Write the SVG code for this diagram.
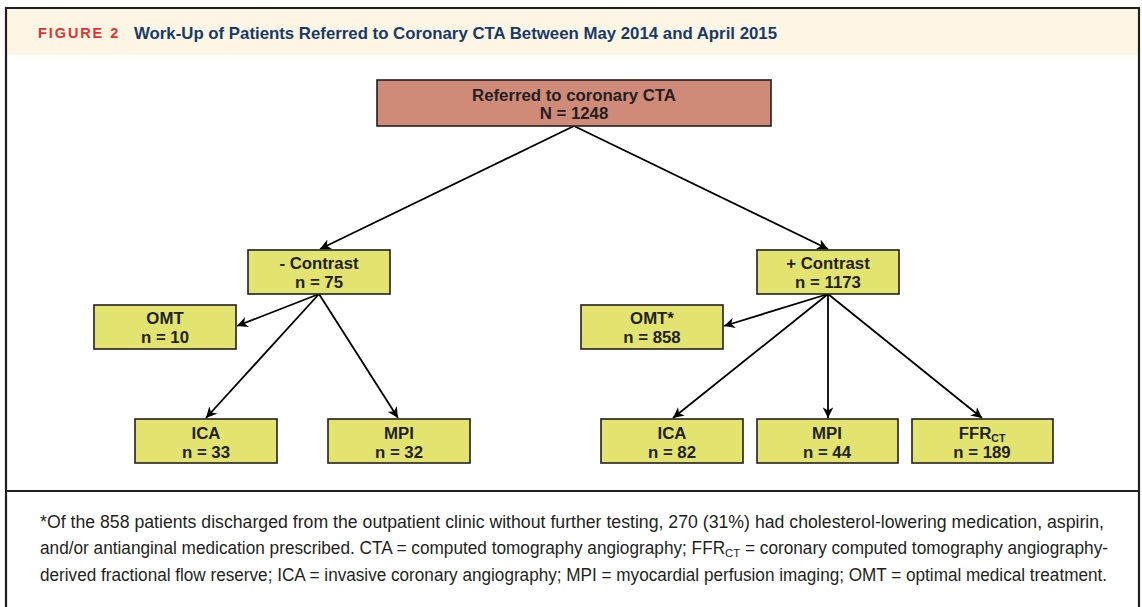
<svg xmlns="http://www.w3.org/2000/svg" width="1142" height="607" viewBox="0 0 1142 607">
<style>
.box{fill:#E3E46F;stroke:#231F20;stroke-width:1.6}
.root{fill:#D08A78;stroke:#231F20;stroke-width:1.6}
.nt{font-family:"Liberation Sans",Arial,sans-serif;font-weight:bold;font-size:16.8px;fill:#231F20;text-anchor:middle}
.edge{stroke:#000;stroke-width:1.8;fill:none;marker-end:url(#ah)}
.fn{font-family:"Liberation Sans",Arial,sans-serif;font-size:17.5px;fill:#231F20}
</style>
<defs>
<marker id="ah" viewBox="0 0 10 10" refX="10" refY="5" markerWidth="6" markerHeight="6" orient="auto" markerUnits="strokeWidth">
<path d="M0,0 L10,5 L0,10 L3,5 Z" fill="#000"/>
</marker>
</defs>
<rect x="0" y="0" width="1142" height="607" fill="#fff"/>
<rect x="6" y="9" width="1132" height="46" fill="#FDF6E4"/>
<path d="M6,607 V8 H1139 V607" fill="none" stroke="#231F20" stroke-width="2.2"/>
<line x1="6" y1="491" x2="1139" y2="491" stroke="#231F20" stroke-width="2.2"/>
<g id="title">
<text x="38" y="38" font-family="'Liberation Sans',Arial,sans-serif" font-weight="bold" font-size="14.5" fill="#E4312F" letter-spacing="1.8" textLength="82" lengthAdjust="spacing">FIGURE 2</text>
<text x="134" y="39" font-family="'Liberation Sans',Arial,sans-serif" font-weight="bold" font-size="16.5" fill="#173A6B" textLength="643" lengthAdjust="spacingAndGlyphs">Work-Up of Patients Referred to Coronary CTA Between May 2014 and April 2015</text>
</g>
<g id="connectors">
<line class="edge" x1="574" y1="126" x2="320" y2="249"/>
<line class="edge" x1="574" y1="126" x2="828" y2="249"/>
<line class="edge" x1="319" y1="294" x2="237" y2="326"/>
<line class="edge" x1="319" y1="294" x2="206" y2="418"/>
<line class="edge" x1="319" y1="294" x2="398" y2="418"/>
<line class="edge" x1="828" y1="294" x2="724" y2="326"/>
<line class="edge" x1="828" y1="294" x2="673" y2="418"/>
<line class="edge" x1="828" y1="294" x2="828" y2="418"/>
<line class="edge" x1="828" y1="294" x2="982" y2="418"/>
</g>
<g id="n-root">
<rect class="root" x="377" y="80" width="394" height="46"/>
<text class="nt" x="574" y="101">Referred to coronary CTA</text>
<text class="nt" x="574" y="119">N = 1248</text>
</g>
<g id="n-minus">
<rect class="box" x="248" y="250" width="142" height="44"/>
<text class="nt" x="319" y="269">- Contrast</text>
<text class="nt" x="319" y="288">n = 75</text>
</g>
<g id="n-plus">
<rect class="box" x="757" y="250" width="142" height="44"/>
<text class="nt" x="828" y="269">+ Contrast</text>
<text class="nt" x="828" y="288">n = 1173</text>
</g>
<g id="n-omt">
<rect class="box" x="94" y="305" width="142" height="44"/>
<text class="nt" x="165" y="324">OMT</text>
<text class="nt" x="165" y="343">n = 10</text>
</g>
<g id="n-omtstar">
<rect class="box" x="581" y="305" width="142" height="44"/>
<text class="nt" x="652" y="324">OMT*</text>
<text class="nt" x="652" y="343">n = 858</text>
</g>
<g id="n-ica1">
<rect class="box" x="135" y="419" width="142" height="44"/>
<text class="nt" x="206" y="439">ICA</text>
<text class="nt" x="206" y="458">n = 33</text>
</g>
<g id="n-mpi1">
<rect class="box" x="328" y="419" width="142" height="44"/>
<text class="nt" x="399" y="439">MPI</text>
<text class="nt" x="399" y="458">n = 32</text>
</g>
<g id="n-ica2">
<rect class="box" x="601" y="419" width="142" height="44"/>
<text class="nt" x="672" y="439">ICA</text>
<text class="nt" x="672" y="458">n = 82</text>
</g>
<g id="n-mpi2">
<rect class="box" x="757" y="419" width="141" height="44"/>
<text class="nt" x="827" y="439">MPI</text>
<text class="nt" x="827" y="458">n = 44</text>
</g>
<g id="n-ffr">
<rect class="box" x="912" y="419" width="141" height="44"/>
<text class="nt" x="982" y="439">FFR<tspan font-size="10.5" dy="3">CT</tspan></text>
<text class="nt" x="982" y="458">n = 189</text>
</g>
<g id="footnote">
<text class="fn" x="40" y="528" textLength="1064" lengthAdjust="spacingAndGlyphs">*Of the 858 patients discharged from the outpatient clinic without further testing, 270 (31%) had cholesterol-lowering medication, aspirin,</text>
<text class="fn" x="40" y="554" textLength="1068" lengthAdjust="spacingAndGlyphs">and/or antianginal medication prescribed. CTA = computed tomography angiography; FFR<tspan font-size="11.5" dy="3">CT</tspan><tspan dy="-3"> = coronary computed tomography angiography-</tspan></text>
<text class="fn" x="40" y="581" textLength="1067" lengthAdjust="spacingAndGlyphs">derived fractional flow reserve; ICA = invasive coronary angiography; MPI = myocardial perfusion imaging; OMT = optimal medical treatment.</text>
</g>
</svg>
